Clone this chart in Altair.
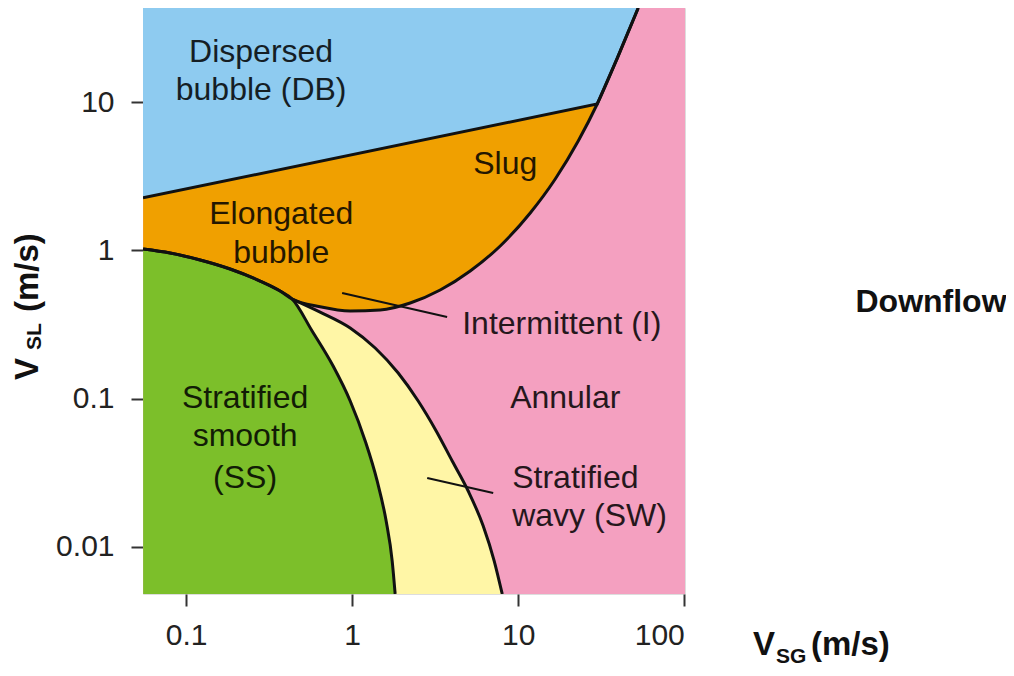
import altair as alt
import pandas as pd

# ---------------- axis extent and ticks ----------------
X_DOMAIN = [0.055, 101]
Y_DOMAIN = [0.00482, 43.1]
X_TICKS = [0.1, 1, 10, 100]
Y_TICKS = [0.01, 0.1, 1, 10]

# ---------------- regime boundaries (VSG, VSL) ----------------
# Dispersed bubble lower boundary (DB / slug line, then DB / annular)
db_x = [0.055, 29.9, 39.5, 52.8]
db_y = [2.26, 9.71, 19.8, 43.1]

# Stratified smooth upper boundary, from the left edge to the junction
ss_top_x = [0.0551, 0.0801, 0.1215, 0.1841, 0.2791, 0.3683, 0.435]
ss_top_y = [1.022, 0.9605, 0.8616, 0.7491, 0.6216, 0.5325, 0.470]

# Intermittent (slug / elongated bubble) lower boundary, junction -> DB corner
int_x = [0.641, 0.973, 1.475, 2.236, 3.389, 5.138, 7.791, 11.81, 16.71, 22.98, 29.9]
int_y = [0.4167, 0.3903, 0.3964, 0.4418, 0.5408, 0.7264, 1.071, 1.787, 3.030, 5.468, 9.71]

# Stratified smooth / stratified wavy boundary
sssw_x = [0.574, 0.768, 0.973, 1.198, 1.414, 1.602, 1.742, 1.815]
sssw_y = [0.286, 0.166, 0.0965, 0.0519, 0.0279, 0.01496, 0.00804, 0.00482]

# Stratified wavy / annular boundary
swa_x = [0.435, 0.641, 0.973, 1.376, 1.893, 2.498, 3.206, 4.004, 4.998, 6.155, 7.169, 8.01]
swa_y = [0.470, 0.384, 0.300, 0.2197, 0.1490, 0.0965, 0.0606, 0.0380, 0.02385, 0.01385,
         0.00804, 0.00482]

# leader lines for labels
lead_int_x = [0.870, 3.73]
lead_int_y = [0.516, 0.355]
lead_sw_x = [2.83, 7.07]
lead_sw_y = [0.0292, 0.0231]

# region labels
lab_text = ["Dispersed", "bubble (DB)", "Elongated", "bubble", "Slug", "Annular",
            "Stratified", "smooth", "(SS)"]
lab_x = [0.283, 0.283, 0.374, 0.374, 8.35, 19.2, 0.2266, 0.2266, 0.2266]
lab_y = [18.6, 10.3, 1.51, 0.822, 3.27, 0.0866, 0.0866, 0.048, 0.025]

lab_left_text = ["Intermittent (I)", "Stratified", "wavy (SW)"]
lab_left_x = [4.60, 9.20, 9.20]
lab_left_y = [0.273, 0.025, 0.01387]

FONT = "Liberation Sans"

xs = alt.Scale(type="log", domain=X_DOMAIN, nice=False)
ys = alt.Scale(type="log", domain=Y_DOMAIN, nice=False)

x_axis = alt.Axis(values=X_TICKS, labelExpr="toString(datum.value)", title=None,
                  grid=False, domain=False, tickSize=12, tickWidth=2, tickColor="#333",
                  labelFontSize=30, labelFont=FONT, labelColor="#222", labelPadding=14)
y_axis = alt.Axis(values=Y_TICKS, labelExpr="toString(datum.value)", title=None,
                  grid=False, domain=False, tickSize=12, tickWidth=2, tickColor="#333",
                  labelFontSize=30, labelFont=FONT, labelColor="#222", labelPadding=17)


def frame(xv, yv, base):
    return pd.DataFrame({"x": xv, "y": yv, "base": [base] * len(xv)})


def area(df, color, interp):
    return alt.Chart(df).mark_area(color=color, opacity=1, interpolate=interp, clip=True).encode(
        x=alt.X("x:Q", scale=xs, axis=x_axis),
        y=alt.Y("y:Q", scale=ys, axis=y_axis),
        y2="base:Q",
    )


def line(df, interp, width=3):
    return alt.Chart(df).mark_line(color="#111", strokeWidth=width, interpolate=interp,
                                   clip=True).encode(
        x=alt.X("x:Q", scale=xs), y=alt.Y("y:Q", scale=ys))


top, bottom = Y_DOMAIN[1], Y_DOMAIN[0]

pink = area(frame(X_DOMAIN, [top, top], bottom), "#f4a0c0", "linear")
yellow = area(frame(swa_x, swa_y, bottom), "#fff6a6", "monotone")
green_df = frame(ss_top_x + sssw_x, ss_top_y + sssw_y, bottom)
green = area(green_df, "#7cbf2a", "monotone")
orange_df = frame(ss_top_x + int_x + db_x[2:], ss_top_y + int_y + db_y[2:], top)
orange = area(orange_df, "#f0a000", "monotone")
blue = area(frame(db_x, db_y, top), "#8ecbf0", "linear")

lines = [
    line(frame(db_x, db_y, 0), "linear"),
    line(orange_df, "monotone"),
    line(green_df, "monotone"),
    line(frame(swa_x, swa_y, 0), "monotone"),
    line(frame(lead_int_x, lead_int_y, 0), "linear", 2),
    line(frame(lead_sw_x, lead_sw_y, 0), "linear", 2),
]

labels_c = alt.Chart(pd.DataFrame({"t": lab_text, "x": lab_x, "y": lab_y})).mark_text(
    font=FONT, fontSize=32, color="black", opacity=0.85, align="center", baseline="alphabetic"
).encode(x=alt.X("x:Q", scale=xs), y=alt.Y("y:Q", scale=ys), text="t:N")
labels_l = alt.Chart(pd.DataFrame({"t": lab_left_text, "x": lab_left_x, "y": lab_left_y})).mark_text(
    font=FONT, fontSize=32, color="black", opacity=0.85, align="left", baseline="alphabetic"
).encode(x=alt.X("x:Q", scale=xs), y=alt.Y("y:Q", scale=ys), text="t:N")

one = pd.DataFrame({"a": [0]})


def note(text, px, py, size, angle=0, align="left", weight="bold"):
    kw = dict(font=FONT, fontSize=size, fontWeight=weight, color="#111", align=align,
              baseline="alphabetic")
    if angle:
        kw["angle"] = angle
    return alt.Chart(one).mark_text(**kw).encode(
        x=alt.value(px), y=alt.value(py), text=alt.value(text))


notes = [
    note("V", 610, 647, 33),
    note("SG", 633, 655, 21),
    note("(m/s)", 668, 647, 33),
    note("V", -105, 372, 33, angle=270),
    note("SL", -102, 342, 21, angle=270),
    note("(m/s)", -105, 304, 33, angle=270),
    note("Downflow", 788, 304, 32, align="center"),
]

chart = alt.layer(pink, yellow, green, orange, blue, *lines, labels_c, labels_l, *notes).properties(
    width=542, height=586,
    autosize=alt.AutoSizeParams(type="none"),
    padding={"left": 135, "top": 0, "right": 321, "bottom": 74},
).configure_view(stroke="#111", strokeWidth=3).configure(background="white")

chart.save("out.html", embed_options={"renderer": "svg", "actions": False})
